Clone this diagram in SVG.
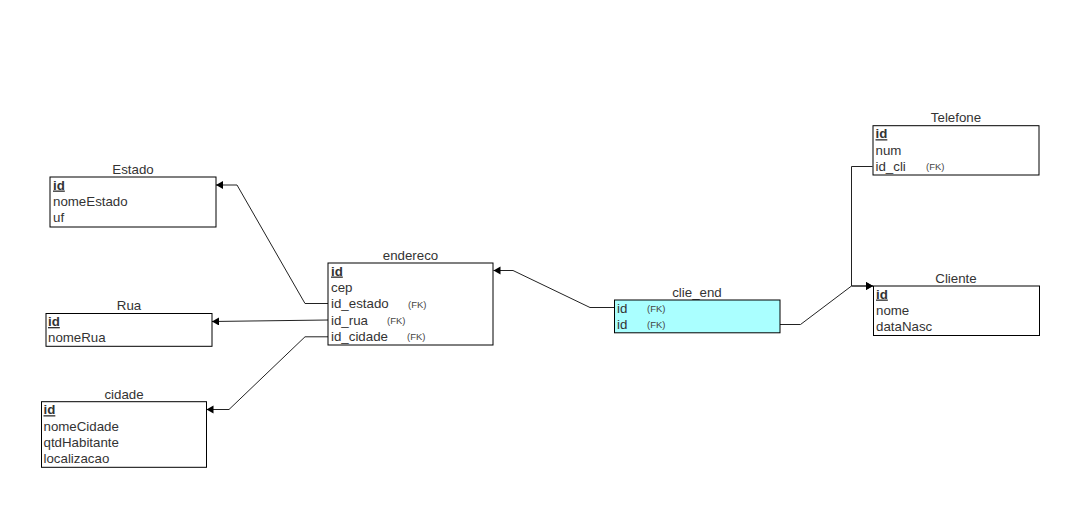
<svg xmlns="http://www.w3.org/2000/svg" width="1081" height="506" viewBox="0 0 1081 506">
<style>
.box{fill:#ffffff;stroke:#000000;stroke-width:1}
.t{font-family:"Liberation Sans",Arial,sans-serif;font-size:13.3px;fill:#333333}
.title{font-family:"Liberation Sans",Arial,sans-serif;font-size:13.3px;fill:#333333;text-anchor:middle}
.pk{font-weight:bold;text-decoration:underline}
.fk{font-family:"Liberation Sans",Arial,sans-serif;font-size:9.5px;fill:#444444}
.edge{fill:none;stroke:#222222;stroke-width:1}
</style>
<defs>
<marker id="arrow" markerUnits="userSpaceOnUse" markerWidth="10" markerHeight="10" refX="7" refY="4" orient="auto">
<path d="M0,0 L7,4 L0,8 z" fill="#000000"/>
</marker>
</defs>
<rect width="1081" height="506" fill="#ffffff"/>
<g id="connectors">
<polyline class="edge" points="328,303.5 305,303.5 237,185 216,185" marker-end="url(#arrow)"/>
<polyline class="edge" points="328,320 212,321.5" marker-end="url(#arrow)"/>
<polyline class="edge" points="328,336.8 305,336.8 229,409.5 206.5,409.5" marker-end="url(#arrow)"/>
<polyline class="edge" points="614,307.5 590,307.5 513,270.5 493.5,270.5" marker-end="url(#arrow)"/>
<polyline class="edge" points="780,324.5 800.5,324.5 851.5,286 873,286" marker-end="url(#arrow)"/>
<polyline class="edge" points="872.5,166.5 851.5,166.5 851.5,286 873,286" marker-end="url(#arrow)"/>
</g>
<g id="estado">
<text class="title" x="133" y="174">Estado</text>
<rect class="box" x="50" y="177" width="166" height="50"/>
<text class="t pk" x="53" y="189.5">id</text>
<text class="t" x="53" y="206">nomeEstado</text>
<text class="t" x="53" y="222.4">uf</text>
</g>
<g id="rua">
<text class="title" x="129" y="310">Rua</text>
<rect class="box" x="46" y="313.5" width="166" height="32.8"/>
<text class="t pk" x="48" y="326">id</text>
<text class="t" x="48" y="342.4">nomeRua</text>
</g>
<g id="cidade">
<text class="title" x="124" y="398.5">cidade</text>
<rect class="box" x="41.5" y="401.7" width="165" height="65.6"/>
<text class="t pk" x="43.5" y="414.2">id</text>
<text class="t" x="43.5" y="430.6">nomeCidade</text>
<text class="t" x="43.5" y="447">qtdHabitante</text>
<text class="t" x="43.5" y="463.4">localizacao</text>
</g>
<g id="endereco">
<text class="title" x="410.5" y="259.5">endereco</text>
<rect class="box" x="328" y="263" width="165" height="82"/>
<text class="t pk" x="331" y="275.5">id</text>
<text class="t" x="331" y="291.9">cep</text>
<text class="t" x="331" y="308.3">id_estado</text>
<text class="fk" x="408" y="307.5">(FK)</text>
<text class="t" x="331" y="324.7">id_rua</text>
<text class="fk" x="387" y="324">(FK)</text>
<text class="t" x="331" y="341.1">id_cidade</text>
<text class="fk" x="407" y="340.3">(FK)</text>
</g>
<g id="clie_end">
<text class="title" x="697" y="297">clie_end</text>
<rect x="614.5" y="300" width="165.5" height="32.8" fill="#aaffff" stroke="#000000" stroke-width="1"/>
<text class="t" x="617" y="312.5">id</text>
<text class="fk" x="647" y="311.7">(FK)</text>
<text class="t" x="617" y="328.9">id</text>
<text class="fk" x="647" y="328.1">(FK)</text>
</g>
<g id="telefone">
<text class="title" x="956" y="122">Telefone</text>
<rect class="box" x="873" y="125.7" width="166" height="49.3"/>
<text class="t pk" x="875.5" y="138.2">id</text>
<text class="t" x="875.5" y="154.6">num</text>
<text class="t" x="875.5" y="171">id_cli</text>
<text class="fk" x="926" y="170.2">(FK)</text>
</g>
<g id="cliente">
<text class="title" x="956" y="282.5">Cliente</text>
<rect class="box" x="873.5" y="286" width="166" height="49.5"/>
<text class="t pk" x="876" y="298.5">id</text>
<text class="t" x="876" y="315">nome</text>
<text class="t" x="876" y="331.4">dataNasc</text>
</g>
</svg>
